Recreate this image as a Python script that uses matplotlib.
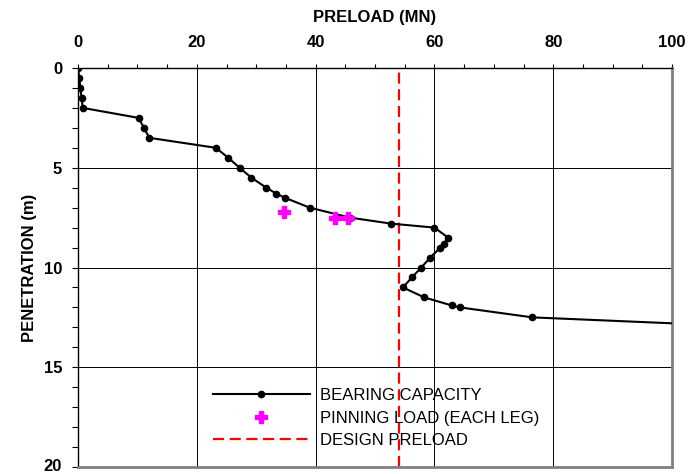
import numpy as np
import matplotlib
matplotlib.use("Agg")
import matplotlib.pyplot as plt
import matplotlib.transforms as mtransforms
from matplotlib.ticker import MultipleLocator

plt.rcParams['font.family'] = ['Liberation Sans', 'DejaVu Sans']

# bearing capacity curve (preload MN vs penetration m)
bc_load = [0.0, 0.2, 0.4, 0.6, 0.8, 10.2, 11.1, 12.0, 23.2, 25.3, 27.2, 29.2,
           31.7, 33.4, 34.8, 39.0, 45.8, 52.7, 60.0, 62.3, 61.6, 61.0, 59.3,
           57.8, 56.2, 54.7, 58.3, 62.9, 64.3, 76.5, 120.0]
bc_pen = [0.0, 0.5, 1.0, 1.5, 2.0, 2.5, 3.0, 3.5, 4.0, 4.5, 5.0, 5.5,
          6.0, 6.3, 6.5, 7.0, 7.5, 7.8, 8.0, 8.5, 8.8, 9.0, 9.5,
          10.0, 10.5, 11.0, 11.5, 11.9, 12.0, 12.5, 13.05]

# pinning load (each leg)
pin_load = [34.6, 43.2, 45.5]
pin_pen = [7.2, 7.5, 7.5]

design_preload = 54.0

x_ticks = [0, 20, 40, 60, 80, 100]
y_ticks = [0, 5, 10, 15, 20]

fig = plt.figure(figsize=(7, 4.74), dpi=100)
ax = fig.add_axes([78/700, 1-467/474, (672-78)/700, (467-68)/474])

ax.plot(bc_load, bc_pen, color='black', lw=1.5, marker='o', ms=4.5,
        label='BEARING CAPACITY', zorder=3)
ax.plot(pin_load, pin_pen, ls='none', marker='P', ms=9, color='#ff00ff',
        mec='#ff00ff', label='PINNING LOAD (EACH LEG)', zorder=4)
ax.axvline(design_preload, color='#ff0000', lw=1.6, dashes=(5, 2.5),
           label='DESIGN PRELOAD', zorder=2)

ax.set_xlim(0, 100)
ax.set_ylim(20, 0)
ax.xaxis.tick_top()
ax.xaxis.set_label_position('top')
ax.set_xticks(x_ticks, [str(t) for t in x_ticks], fontweight='bold')
ax.set_yticks(y_ticks, [str(t) for t in y_ticks], fontweight='bold')
ax.xaxis.set_minor_locator(MultipleLocator(5))
ax.yaxis.set_minor_locator(MultipleLocator(1))
ax.tick_params(axis='x', which='both', length=3, width=0.8, pad=10,
               labelsize=12)
ax.tick_params(axis='y', which='both', length=4.5, width=0.8, pad=7,
               labelsize=12)

ax.grid(True, which='major', color='black', lw=0.7)
ax.set_xlabel('PRELOAD (MN)', fontsize=12, fontweight='bold', labelpad=9)
ax.set_ylabel('PENETRATION (m)', fontsize=12, fontweight='bold', labelpad=5)

for s in ['top', 'left']:
    ax.spines[s].set_color('black')
    ax.spines[s].set_linewidth(1.0)
for s in ['right', 'bottom']:
    ax.spines[s].set_color('#808080')
    ax.spines[s].set_linewidth(2.0)

ax.legend(loc='center left', bbox_to_anchor=(213/700, 1-418/474),
          bbox_transform=fig.transFigure, frameon=False, fontsize=12,
          handlelength=5.8, handletextpad=0.6, borderpad=0,
          borderaxespad=0, labelspacing=0.45)

# keep the bottom "20" label inside the figure
lab20 = ax.yaxis.get_major_ticks()[-1].label1
lab20.set_verticalalignment('baseline')
lab20.set_transform(lab20.get_transform() +
                    mtransforms.ScaledTranslation(0, -3/72, fig.dpi_scale_trans))

fig.savefig('out.png', dpi=100)
